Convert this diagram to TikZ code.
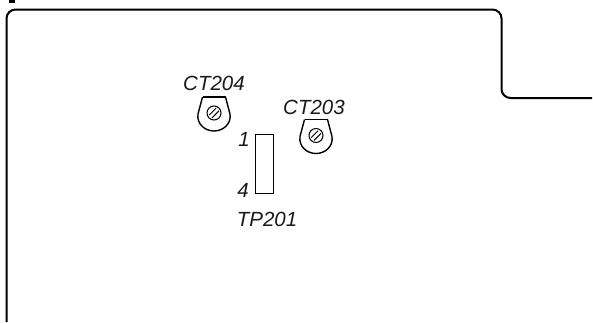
\documentclass[tikz,border=0pt]{standalone}
\usepackage{fontspec}
\setmainfont{Liberation Sans}
\tikzset{
 outline/.style={line width=2pt,rounded corners=9pt,black},
 lbl/.style={inner sep=0pt,font=\fontsize{20.5}{20.5}\selectfont\itshape,text=black!90},
 thin part/.style={line width=1.4pt,black},
}
\newcommand{\trimmer}[2]{%
 \draw[thin part] (#1-11.5,#2-16) -- (#1+11.5,#2-16);
 \draw[thin part] (#1-11.5,#2-16) -- (#1-16,#2+1)
   .. controls (#1-17.5,#2+11) and (#1-9,#2+18) .. (#1,#2+18)
   .. controls (#1+9,#2+18) and (#1+17.5,#2+11) .. (#1+16,#2+1) -- (#1+11.5,#2-16);
 \draw[line width=1pt] (#1,#2) circle (7);
 \draw[line width=1pt] (#1-4.8,#2+2) -- (#1+2,#2-4.8);
 \draw[line width=1pt] (#1-2,#2+4.8) -- (#1+4.8,#2-2);
}
\begin{document}
\begin{tikzpicture}[x=1pt,y=-1pt]
\useasboundingbox (0,0) rectangle (593,322);
\fill[black] (9,0) rectangle (15,3);
\draw[outline] (6.5,322) -- (6.5,9.5) -- (501.5,9.5) -- (501.5,98) -- (592,98);
\trimmer{214}{113}
\trimmer{316}{135.5}
\node[draw,line width=0.7pt,minimum width=18pt,minimum height=59pt,inner sep=0pt,anchor=north west] (tp) at (255,134) {};
\node[lbl] (a) at (214,83.5) {CT204};
\node[lbl] (b) at (314,107.5) {CT203};
\node[lbl] (one) at (244,139.5) {1};
\node[lbl] (four) at (243,190) {4};
\node[lbl] (tpl) at (267,219) {TP201};
\end{tikzpicture}
\end{document}
